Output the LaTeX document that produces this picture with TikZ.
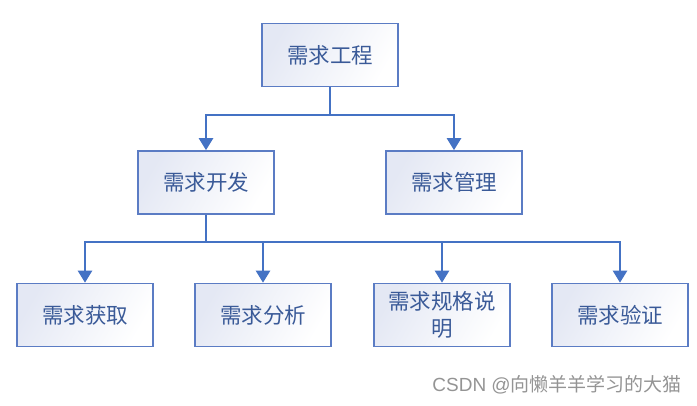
\documentclass[tikz,border=0pt]{standalone}
\usepackage{fontspec}
\newfontfamily\cjk{Noto Sans CJK SC}
\newfontfamily\lat{Liberation Sans}
\usetikzlibrary{arrows.meta}
\definecolor{lineblue}{HTML}{4472C4}
\definecolor{boxborder}{HTML}{5B7CC4}
\definecolor{txtblue}{HTML}{3A5A98}
\definecolor{boxfill}{HTML}{E4E8F4}
\tikzset{
  box/.style={draw=boxborder, line width=1.6pt, minimum width=136pt, minimum height=63pt,
    left color=boxfill, right color=white, shading angle=60,
    font=\cjk\fontsize{21.5}{27}\selectfont, text=txtblue, align=center, inner sep=0pt},
  conn/.style={draw=lineblue, line width=2.4pt},
  arr/.style={conn, -{Triangle[length=12pt,width=14pt]}},
}
\begin{document}
\begin{tikzpicture}[x=1pt,y=-1pt]
\useasboundingbox (0,0) rectangle (697,405);
\node[box] (root) at (330,55) {需求工程};
\node[box] (dev) at (206,182.5) {需求开发};
\node[box] (mgmt) at (454,182.5) {需求管理};
\node[box] (get) at (85,315) {需求获取};
\node[box] (ana) at (263,315) {需求分析};
\node[box, text width=130pt] (spec) at (442,315) {需求规格说\\明};
\node[box] (ver) at (620,315) {需求验证};
\coordinate (j1) at (330,115);
\coordinate (j2) at (206,242);
\draw[conn] (root.south) -- (j1);
\draw[arr] (j1) -| (dev.north);
\draw[arr] (j1) -| (mgmt.north);
\draw[conn] (dev.south) -- (j2);
\draw[arr] (j2) -| (get.north);
\draw[arr] (j2) -| (ana.north);
\draw[arr] (j2) -| (spec.north);
\draw[arr] (j2) -| (ver.north);
\node[anchor=east, text=black!42, font=\cjk\fontsize{19}{21}\selectfont, inner sep=0pt] (wm) at (682,385) {{\lat CSDN @}向懒羊羊学习的大猫};
\end{tikzpicture}
\end{document}
